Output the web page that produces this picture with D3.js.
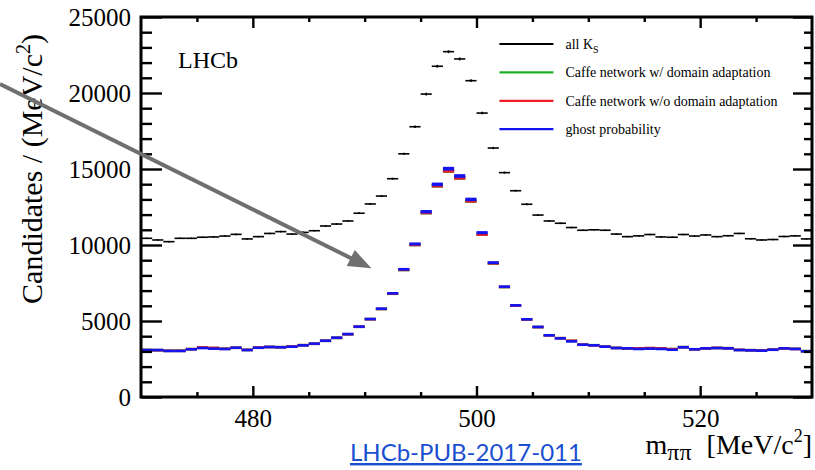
<!DOCTYPE html>
<html>
<head>
<meta charset="utf-8">
<script src="https://cdn.jsdelivr.net/npm/d3@7/dist/d3.min.js"></script>
<style>
  body { margin: 0; background: #fff; }
  svg { display: block; }
  .root text { font-family: "Liberation Serif", "DejaVu Serif", serif; fill: #000; }
</style>
</head>
<body>
<svg id="chart" width="815" height="470"></svg>
<script>
// m_pipi histogram, 1 MeV bins from 470 to 530
var binStart = 470
var binWidth = 1

var allKs = [10440, 10330, 10220, 10440, 10440, 10510, 10530, 10590, 10700, 10400,
  10550, 10760, 10880, 10720, 10830, 10940, 11250, 11380, 11580, 12090,
  12700, 13220, 14360, 16000, 17780, 19930, 21760, 22720, 22240, 20810,
  18680, 16380, 14760, 13570, 12680, 11970, 11580, 11430, 11150, 10970,
  11000, 10970, 10720, 10550, 10600, 10690, 10530, 10510, 10690, 10590,
  10660, 10550, 10610, 10760, 10410, 10330, 10360, 10560, 10600, 10400]

var caffeWithDA = [3090, 3080, 3040, 3040, 3150, 3250, 3220, 3170, 3240, 3100,
  3250, 3290, 3280, 3320, 3410, 3500, 3700, 3890, 4130, 4620,
  5120, 5790, 6790, 8360, 10010, 12120, 13890, 14870, 14410, 12890,
  10700, 8790, 7230, 6010, 5100, 4600, 4060, 3870, 3690, 3440,
  3410, 3310, 3230, 3200, 3190, 3210, 3190, 3150, 3280, 3140,
  3200, 3230, 3210, 3100, 3080, 3060, 3110, 3200, 3170, 3020]

var caffeNoDA = [3090, 3080, 3040, 3040, 3150, 3260, 3230, 3170, 3240, 3100,
  3250, 3290, 3280, 3320, 3410, 3500, 3700, 3890, 4130, 4620,
  5120, 5790, 6800, 8370, 10020, 12130, 13900, 14880, 14420, 12900,
  10700, 8800, 7240, 6010, 5100, 4600, 4060, 3870, 3700, 3440,
  3400, 3310, 3230, 3200, 3200, 3220, 3200, 3150, 3280, 3140,
  3200, 3230, 3210, 3100, 3080, 3060, 3110, 3200, 3160, 3010]

var ghostProb = [3090, 3090, 3030, 3030, 3140, 3220, 3180, 3160, 3240, 3090,
  3240, 3290, 3270, 3310, 3400, 3510, 3700, 3900, 4140, 4630,
  5130, 5810, 6820, 8400, 10070, 12190, 13990, 15020, 14540, 13000,
  10810, 8840, 7260, 6030, 5110, 4610, 4060, 3860, 3660, 3440,
  3400, 3310, 3220, 3200, 3160, 3180, 3160, 3110, 3270, 3140,
  3200, 3220, 3200, 3090, 3070, 3050, 3110, 3200, 3160, 3010]

var xMajorTicks = [480, 500, 520]
var xMinorTicks = [475, 485, 490, 495, 505, 510, 515, 525]
var yMajorTicks = [0, 5000, 10000, 15000, 20000, 25000]
var yMinorTicks = [1000, 2000, 3000, 4000, 6000, 7000, 8000, 9000, 11000, 12000, 13000, 14000,
  16000, 17000, 18000, 19000, 21000, 22000, 23000, 24000]

var legendNames = ["all K", "Caffe network w/ domain adaptation", "Caffe network w/o domain adaptation", "ghost probability"]
var legendColors = ["#000000", "#1fae2a", "#ee1c24", "#1414f0"]

var arrowTip = [490.6, 8470]

var margin = {left: 141, right: 3, top: 17, bottom: 73}
var width = 815 - margin.left - margin.right
var height = 470 - margin.top - margin.bottom

var svg = d3.select("#chart")
var g = svg.append("g")
  .attr("class", "root")
  .attr("transform", "translate(" + margin.left + "," + margin.top + ")")

var x = d3.scaleLinear().domain([470, 530]).range([0, width])
var y = d3.scaleLinear().domain([0, 25000]).range([height, 0])

function bins(values) {
  return values.map(function(v, i) {
    return {x0: binStart + i * binWidth, x1: binStart + (i + 1) * binWidth, v: v}
  })
}

function boxHeight(d) {
  return Math.max(y(d.v - Math.sqrt(d.v)) - y(d.v + Math.sqrt(d.v)), 2.6)
}

// coloured series: small boxes of +-sqrt(N)
var series = [
  {data: caffeWithDA, color: legendColors[1]},
  {data: caffeNoDA, color: legendColors[2]},
  {data: ghostProb, color: legendColors[3]}
]
series.forEach(function(s) {
  g.append("g")
    .selectAll("rect")
    .data(bins(s.data))
    .enter()
    .append("rect")
    .attr("x", function(d) { return x(d.x0) })
    .attr("width", function(d) { return x(d.x1) - x(d.x0) })
    .attr("y", function(d) { return y(d.v) - boxHeight(d) / 2 })
    .attr("height", boxHeight)
    .attr("fill", s.color)
})

// black series: horizontal bin bar plus vertical error bar
var black = g.append("g")
var blackBins = bins(allKs)
black.selectAll(".hbar")
  .data(blackBins)
  .enter()
  .append("line")
  .attr("x1", function(d) { return x(d.x0) })
  .attr("x2", function(d) { return x(d.x1) })
  .attr("y1", function(d) { return y(d.v) })
  .attr("y2", function(d) { return y(d.v) })
  .attr("stroke", "#000")
  .attr("stroke-width", 1.6)
black.selectAll(".vbar")
  .data(blackBins)
  .enter()
  .append("line")
  .attr("x1", function(d) { return x((d.x0 + d.x1) / 2) })
  .attr("x2", function(d) { return x((d.x0 + d.x1) / 2) })
  .attr("y1", function(d) { return y(d.v - Math.sqrt(d.v)) - 0.8 })
  .attr("y2", function(d) { return y(d.v + Math.sqrt(d.v)) + 0.8 })
  .attr("stroke", "#000")
  .attr("stroke-width", 1.6)

// axes, ROOT style with ticks inside the frame
function noDomain(a) { a.select(".domain").remove() }
function bigLabels(a) {
  a.selectAll("text").attr("font-size", 25).attr("font-family", "Liberation Serif, serif").attr("fill", "#000")
}

g.append("g")
  .attr("transform", "translate(0," + height + ")")
  .call(d3.axisBottom(x).tickValues(xMajorTicks).tickSize(-11).tickPadding(12).tickFormat(d3.format("d")))
  .call(noDomain)
  .call(bigLabels)
g.append("g")
  .attr("transform", "translate(0," + height + ")")
  .call(d3.axisBottom(x).tickValues(xMinorTicks).tickSize(-5).tickFormat(""))
  .call(noDomain)
g.append("g")
  .call(d3.axisTop(x).tickValues(xMajorTicks).tickSize(-11).tickFormat(""))
  .call(noDomain)
g.append("g")
  .call(d3.axisTop(x).tickValues(xMinorTicks).tickSize(-5).tickFormat(""))
  .call(noDomain)

g.append("g")
  .call(d3.axisLeft(y).tickValues(yMajorTicks).tickSize(-21).tickPadding(10).tickFormat(d3.format("d")))
  .call(noDomain)
  .call(bigLabels)
g.append("g")
  .call(d3.axisLeft(y).tickValues(yMinorTicks).tickSize(-11).tickFormat(""))
  .call(noDomain)
g.append("g")
  .attr("transform", "translate(" + width + ",0)")
  .call(d3.axisRight(y).tickValues(yMajorTicks).tickSize(-19).tickFormat(""))
  .call(noDomain)
g.append("g")
  .attr("transform", "translate(" + width + ",0)")
  .call(d3.axisRight(y).tickValues(yMinorTicks).tickSize(-8).tickFormat(""))
  .call(noDomain)
g.selectAll(".tick line")
  .attr("stroke", "#000")
  .attr("stroke-width", 2.4)

g.append("rect")
  .attr("x", 0)
  .attr("y", 0)
  .attr("width", width)
  .attr("height", height)
  .attr("fill", "none")
  .attr("stroke", "#000")
  .attr("stroke-width", 3)

// axis titles
var yTitle = g.append("text")
  .attr("transform", "translate(-99,17) rotate(-90)")
  .attr("text-anchor", "end")
  .attr("font-size", 30)
yTitle.append("tspan").text("Candidates / (MeV/c")
yTitle.append("tspan").attr("font-size", 20).attr("dy", -12).text("2")
yTitle.append("tspan").attr("dy", 12).text(")")

var xTitle = g.append("text")
  .attr("x", width)
  .attr("y", height + 57)
  .attr("text-anchor", "end")
  .attr("font-size", 28)
xTitle.append("tspan").text("m")
xTitle.append("tspan").attr("font-size", 24).attr("dy", 6).text("ππ")
xTitle.append("tspan").attr("dy", -6).attr("dx", 15).text("[MeV/c")
xTitle.append("tspan").attr("font-size", 18).attr("dy", -12).text("2")
xTitle.append("tspan").attr("dy", 12).text("]")

g.append("text")
  .attr("x", 37)
  .attr("y", 51)
  .attr("font-size", 24)
  .text("LHCb")

// legend
var legend = g.append("g").attr("transform", "translate(" + x(502.05) + ",27)")
var rows = legend.selectAll("g")
  .data(legendNames)
  .enter()
  .append("g")
  .attr("transform", function(d, i) { return "translate(0," + (i * 28.4) + ")" })
rows.append("line")
  .attr("x1", 0)
  .attr("x2", 54)
  .attr("stroke", function(d, i) { return legendColors[i] })
  .attr("stroke-width", 2.2)
var labels = rows.append("text")
  .attr("x", 66)
  .attr("dy", "0.35em")
  .attr("font-size", 14)
labels.append("tspan").text(function(d) { return d })
labels.filter(function(d, i) { return i === 0 })
  .append("tspan")
  .attr("font-size", 10)
  .attr("dy", 4)
  .text("S")

// annotation arrow from the slide
var tipX = margin.left + x(arrowTip[0])
var tipY = margin.top + y(arrowTip[1])
var ang = Math.atan2(tipY - 84, tipX - 0)
var headLen = 23, headHalf = 9
var baseX = tipX - headLen * Math.cos(ang)
var baseY = tipY - headLen * Math.sin(ang)
svg.append("line")
  .attr("x1", 0)
  .attr("y1", 84)
  .attr("x2", baseX + 2 * Math.cos(ang))
  .attr("y2", baseY + 2 * Math.sin(ang))
  .attr("stroke", "#6f6f6f")
  .attr("stroke-width", 4)
svg.append("path")
  .attr("d", "M" + tipX + "," + tipY +
    "L" + (baseX + headHalf * Math.sin(ang)) + "," + (baseY - headHalf * Math.cos(ang)) +
    "L" + (baseX - headHalf * Math.sin(ang)) + "," + (baseY + headHalf * Math.cos(ang)) + "Z")
  .attr("fill", "#6f6f6f")

// reference link
svg.append("text")
  .attr("x", 350)
  .attr("y", 461)
  .attr("font-family", "Lato, 'Open Sans', sans-serif")
  .attr("font-size", 24)
  .attr("fill", "#1a4fd0")
  .attr("text-decoration", "underline")
  .text("LHCb-PUB-2017-011")
</script>
</body>
</html>
